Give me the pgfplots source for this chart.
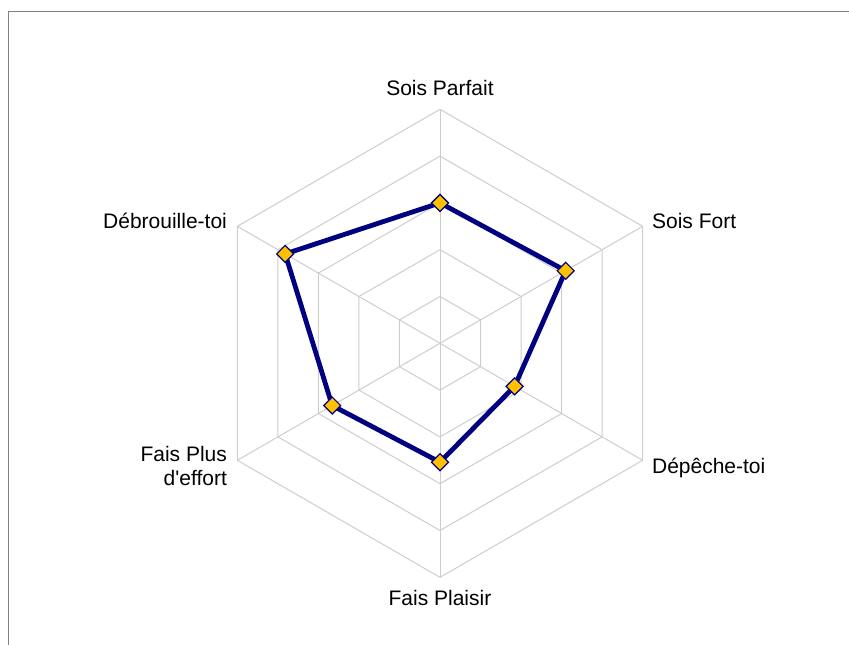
\documentclass[border=0pt]{standalone}
\usepackage{pgfplots}
\pgfplotsset{compat=1.18}
\usepackage{fontspec}
\setmainfont{Liberation Sans}
\definecolor{gridc}{RGB}{205,205,205}
\definecolor{navyc}{RGB}{0,0,128}
\definecolor{goldc}{RGB}{255,192,0}
\definecolor{framec}{RGB}{128,128,128}
\begin{document}
\begin{tikzpicture}
\useasboundingbox (-220pt,-150.35pt) rectangle (204.5pt,171.65pt);
\begin{scope}
\clip (-220pt,-150.35pt) rectangle (204.5pt,171.65pt);
\draw[framec, line width=0.8pt] (-215.75pt,-160pt) -- (-215.75pt,165.9pt) -- (215pt,165.9pt);
\end{scope}
\begin{axis}[
  at={(0pt,0pt)}, anchor=origin,
  x=23.4pt, y=23.4pt,
  xmin=-5, xmax=5, ymin=-5, ymax=5,
  hide axis, clip=false,
  data cs=polar,
]
% grid rings
\foreach \r in {1,2,3,4,5} {
  \edef\temp{\noexpand\addplot[gridc, line width=0.5pt, no markers] coordinates {(90,\r) (30,\r) (-30,\r) (-90,\r) (-150,\r) (150,\r) (90,\r)};}
  \temp
}
% spokes
\addplot[gridc, line width=0.5pt, no markers] coordinates {(90,0) (90,5)};
\addplot[gridc, line width=0.5pt, no markers] coordinates {(30,0) (30,5)};
\addplot[gridc, line width=0.5pt, no markers] coordinates {(-30,0) (-30,5)};
\addplot[gridc, line width=0.5pt, no markers] coordinates {(-90,0) (-90,5)};
\addplot[gridc, line width=0.5pt, no markers] coordinates {(-150,0) (-150,5)};
\addplot[gridc, line width=0.5pt, no markers] coordinates {(150,0) (150,5)};
% data
\addplot[navyc, line width=2.4pt, mark=square*, mark size=3pt,
  mark options={fill=goldc, draw=navyc, line width=0.6pt, rotate=45}]
  coordinates {(90,3.0) (30,3.1) (-30,1.84) (-90,2.54) (-150,2.66) (150,3.82) (90,3.0)};
\end{axis}
\fontsize{10.5}{12.6}\selectfont
\node[anchor=base, inner sep=0] at (0pt,124.15pt) {Sois Parfait};
\node[anchor=base west, inner sep=0] at (105.85pt,57.5pt) {Sois Fort};
\node[anchor=base west, inner sep=0] at (105.85pt,-65pt) {Dépêche-toi};
\node[anchor=base, inner sep=0] at (0pt,-130.85pt) {Fais Plaisir};
\node[anchor=base east, inner sep=0] at (-106.35pt,-59.2pt) {Fais Plus};
\node[anchor=base east, inner sep=0] at (-106.35pt,-70.85pt) {d\textquotesingle effort};
\node[anchor=base east, inner sep=0] at (-106.35pt,57.5pt) {Débrouille-toi};
\end{tikzpicture}
\end{document}
